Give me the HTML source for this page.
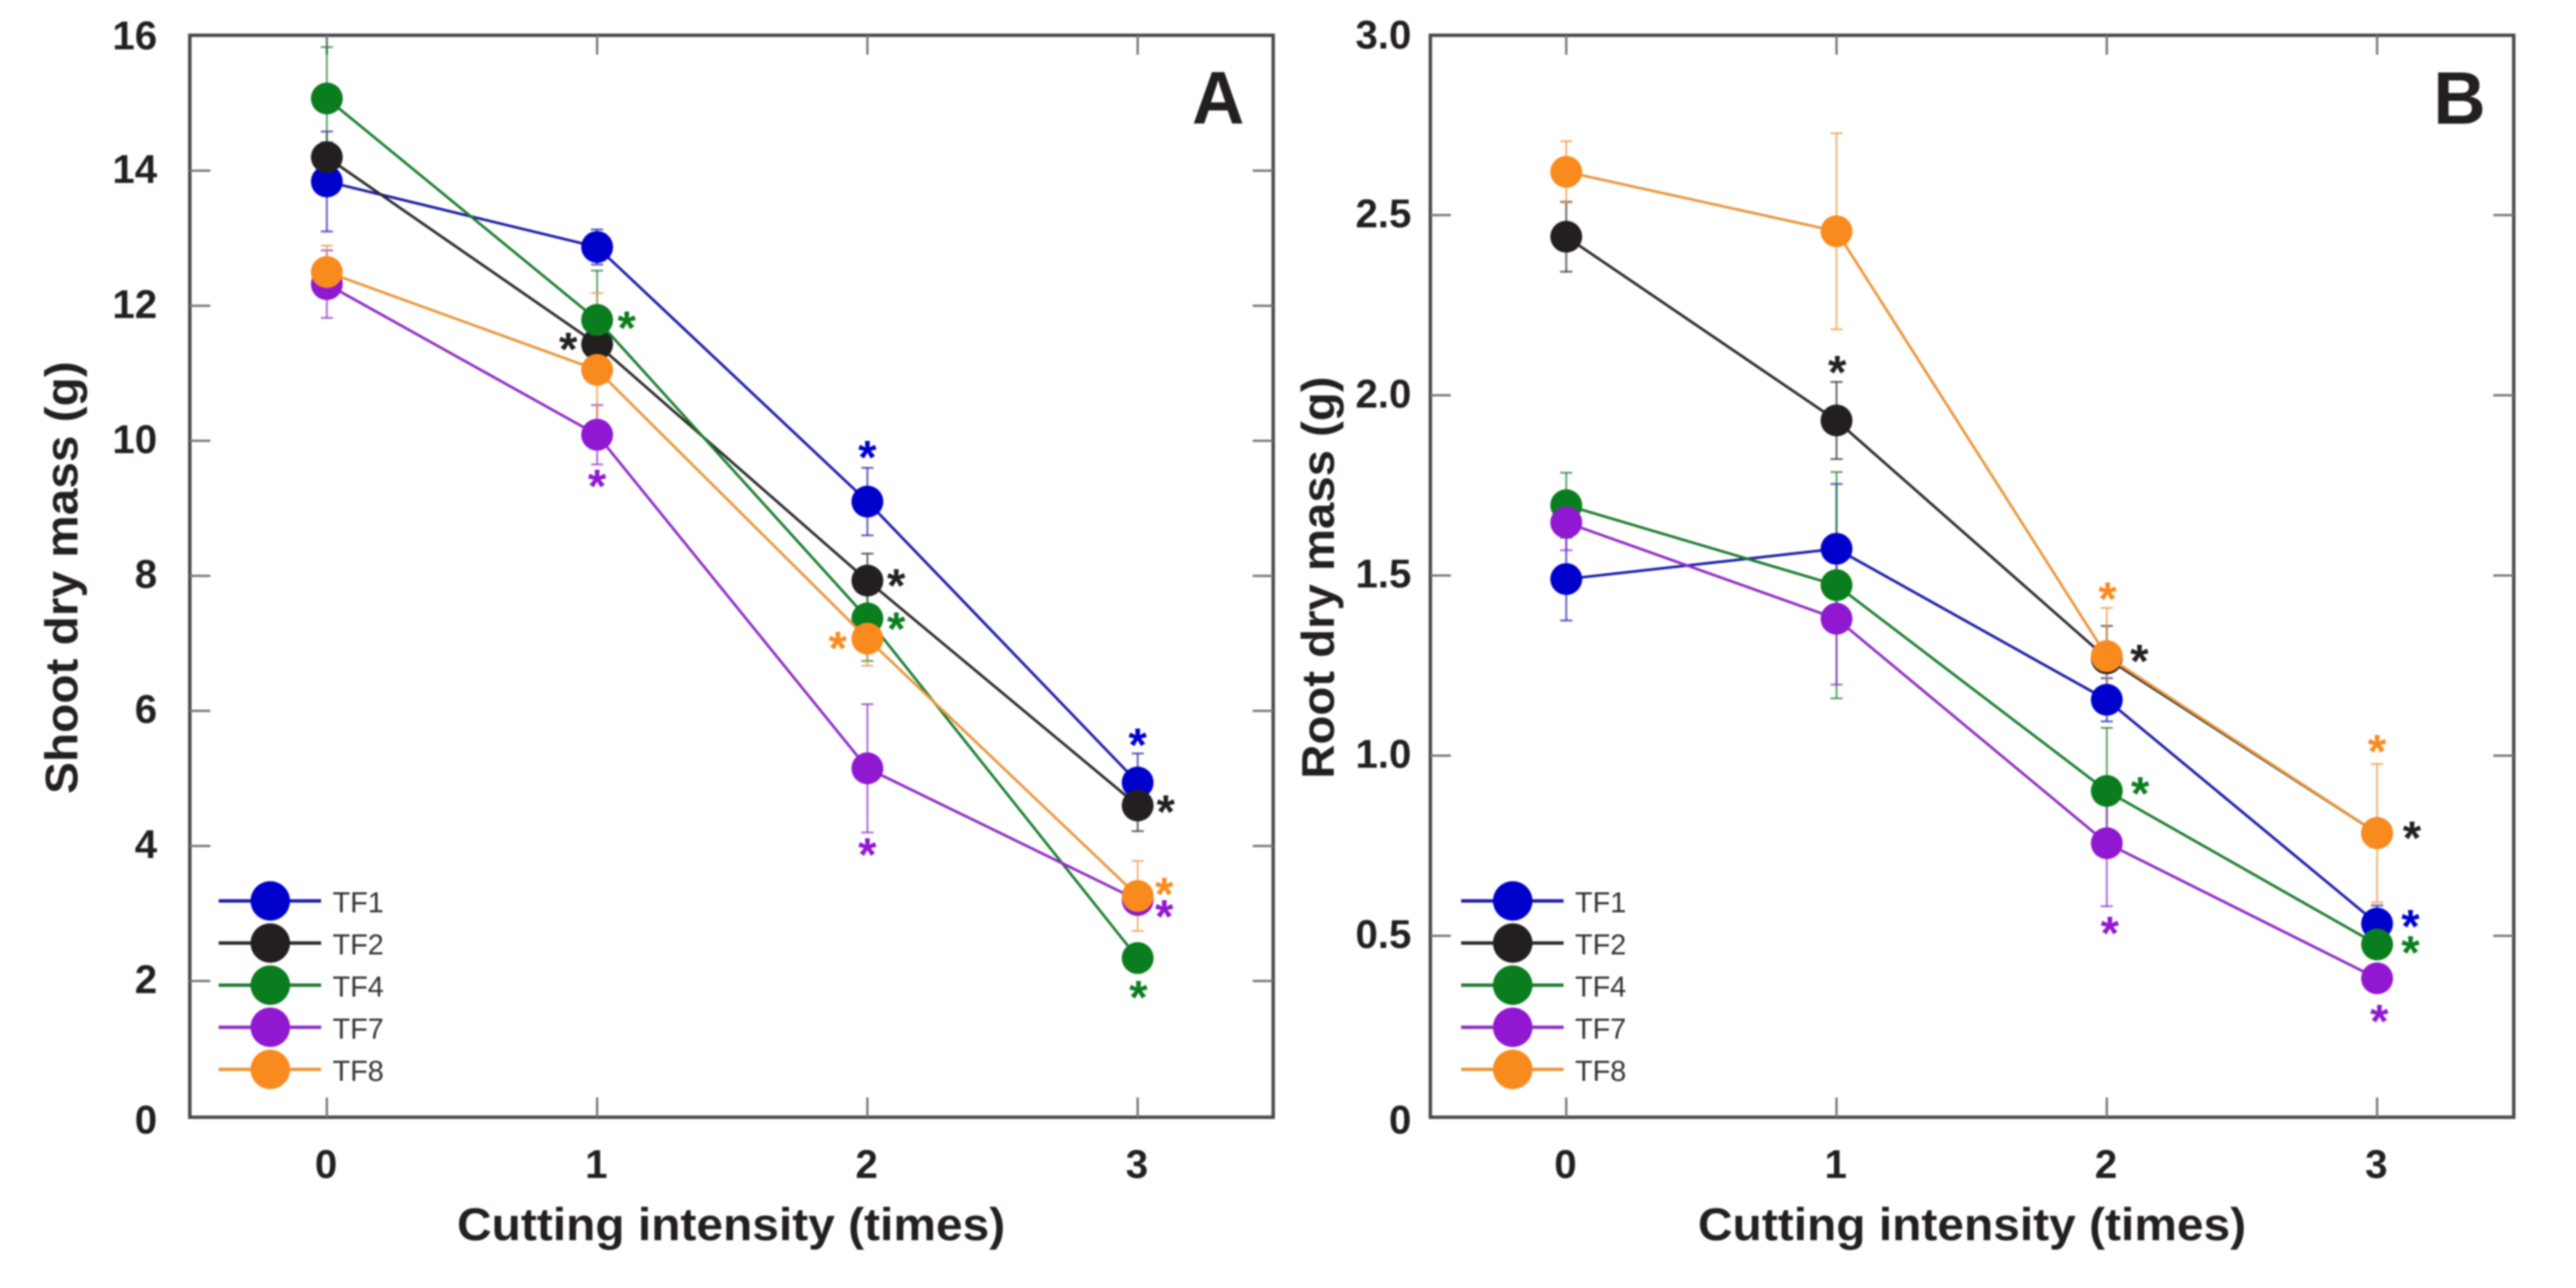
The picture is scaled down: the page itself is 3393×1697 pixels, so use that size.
<!DOCTYPE html>
<html lang="en">
<head>
<meta charset="utf-8">
<title>Shoot and root dry mass vs cutting intensity</title>
<style>
html,body{margin:0;padding:0;background:#fff;width:3393px;height:1697px;overflow:hidden}
svg{display:block;filter:blur(1px)}
text{font-family:"Liberation Sans",sans-serif;fill:#231f20}
</style>
</head>
<body>
<svg id="chart" xmlns="http://www.w3.org/2000/svg" width="3393" height="1697" viewBox="0 0 3393 1697">
<rect x="0" y="0" width="3393" height="1697" fill="#fff"></rect>
</svg>
<script>
const categories = [0, 1, 2, 3];
const seriesNames = ['TF1', 'TF2', 'TF4', 'TF7', 'TF8'];
const seriesColors = ['#0000cd', '#231f20', '#0a7d1e', '#9018d0', '#f98a1e'];
const lineColors = ['#1c1ca6', '#2b2829', '#1b7d30', '#8f2cc4', '#e8973f'];

const shootTF1 = [13.84, 12.87, 9.10, 4.94];
const shootTF2 = [14.20, 11.43, 7.93, 4.60];
const shootTF4 = [15.07, 11.79, 7.37, 2.34];
const shootTF7 = [12.32, 10.09, 5.15, 3.20];
const shootTF8 = [12.50, 11.05, 7.07, 3.26];
const shootErrTF1 = [0.74, 0.26, 0.50, 0.43];
const shootErrTF2 = [0.22, 0.40, 0.40, 0.38];
const shootErrTF4 = [0.76, 0.73, 0.63, 0.10];
const shootErrTF7 = [0.50, 0.44, 0.95, 0.10];
const shootErrTF8 = [0.39, 1.14, 0.40, 0.52];

const rootTF1 = [1.49, 1.574, 1.155, 0.534];
const rootTF2 = [2.44, 1.93, 1.27, 0.785];
const rootTF4 = [1.695, 1.473, 0.902, 0.476];
const rootTF7 = [1.647, 1.38, 0.757, 0.382];
const rootTF8 = [2.62, 2.455, 1.276, 0.785];
const rootErrTF1 = [0.115, 0.18, 0.06, 0.05];
const rootErrTF2 = [0.097, 0.107, 0.09, 0.02];
const rootErrTF4 = [0.09, 0.314, 0.175, 0.02];
const rootErrTF7 = [0.077, 0.183, 0.175, 0.02];
const rootErrTF8 = [0.085, 0.272, 0.134, 0.192];

const shootTicks = ['0', '2', '4', '6', '8', '10', '12', '14', '16'];
const rootTicks = ['0', '0.5', '1.0', '1.5', '2.0', '2.5', '3.0'];

/* significance marks: series index, category index */
const shootStarSeries = [1, 2, 3, 0, 1, 2, 4, 3, 0, 1, 4, 3, 2];
const shootStarCategory = [1, 1, 1, 2, 2, 2, 2, 2, 3, 3, 3, 3, 3];
const rootStarSeries = [1, 4, 1, 2, 3, 4, 1, 0, 2, 3];
const rootStarCategory = [1, 2, 2, 2, 2, 3, 3, 3, 3, 3];

const svg = document.getElementById('chart');
const NS = 'http://www.w3.org/2000/svg';

function make(tag, parent) {
  const el = document.createElementNS(NS, tag);
  parent.appendChild(el);
  return el;
}
function lineEl(parent, x1, y1, x2, y2, color, width, opacity) {
  const el = make('line', parent);
  el.setAttribute('x1', x1);
  el.setAttribute('y1', y1);
  el.setAttribute('x2', x2);
  el.setAttribute('y2', y2);
  el.setAttribute('stroke', color);
  el.setAttribute('stroke-width', width);
  if (opacity !== undefined) el.setAttribute('stroke-opacity', opacity);
  return el;
}
function textEl(parent, str, x, y, size, weight, anchor) {
  const el = make('text', parent);
  el.textContent = str;
  el.setAttribute('x', x);
  el.setAttribute('y', y);
  el.setAttribute('font-size', size);
  el.setAttribute('font-weight', weight);
  el.setAttribute('text-anchor', anchor);
  return el;
}

function drawPanel(cfg) {
  const g = make('g', svg);
  
  

  const xScale = v => cfg.x0 + cfg.xStep * v;
  const yScale = v => cfg.y0 - cfg.yPerUnit * v;

  const frame = make('rect', g);
  frame.setAttribute('x', cfg.left);
  frame.setAttribute('y', 46.5);
  frame.setAttribute('width', cfg.right - cfg.left);
  frame.setAttribute('height', 1472 - 46.5);
  frame.setAttribute('fill', 'none');
  frame.setAttribute('stroke', '#484848');
  frame.setAttribute('stroke-width', 4.5);
  
  

  cfg.ticks.forEach(label => {
    const v = parseFloat(label);
    const y = yScale(v);
    if (v > 0 && v < cfg.yMax) {
      const t1 = lineEl(g, cfg.left, y, cfg.left + 27, y, '#777', 3);
      
      
      const t2 = lineEl(g, cfg.right - 27, y, cfg.right, y, '#777', 3);
      
      
    }
    const off = v === 0 ? 23 : (v === cfg.yMax ? 18 : 16);
    const lab = textEl(g, label, cfg.tickLabelX, y + off, 53, 'bold', 'end');
    
    
  });

  categories.forEach(c => {
    const x = xScale(c);
    const t1 = lineEl(g, x, 1472, x, 1446, '#777', 3);
    
    
    const t2 = lineEl(g, x, 46.5, x, 72, '#777', 3);
    
    
    const lab = textEl(g, String(c), x - 1, 1552, 53, 'bold', 'middle');
    
    
  });

  const xt = textEl(g, 'Cutting intensity (times)', cfg.xTitleX, 1634, 60, 'bold', 'start');
  xt.setAttribute('textLength', 722);
  xt.setAttribute('lengthAdjust', 'spacingAndGlyphs');
  
  

  const yt = textEl(g, cfg.yTitle, 0, 0, 60, 'bold', 'middle');
  yt.setAttribute('transform', 'translate(' + cfg.yTitleX + ',' + cfg.yTitleY + ') rotate(-90)');
  yt.setAttribute('textLength', cfg.yTitleLen);
  yt.setAttribute('lengthAdjust', 'spacingAndGlyphs');
  
  

  const letter = textEl(g, cfg.letter, cfg.letterX, 163, 98, 'bold', 'start');
  letter.setAttribute('textLength', 69);
  letter.setAttribute('lengthAdjust', 'spacingAndGlyphs');
  
  

  const barLayer = make('g', g);
  
  

  cfg.values.forEach((vals, s) => {
    vals.forEach((v, i) => {
      const x = xScale(categories[i]);
      const hi = yScale(v + cfg.errors[s][i]);
      const lo = yScale(v - cfg.errors[s][i]);
      const bar = lineEl(barLayer, x, hi, x, lo, lineColors[s], 2.5, 0.7);
      
      
      const capT = lineEl(barLayer, x - 8, hi, x + 8, hi, lineColors[s], 2.5, 0.7);
      
      
      const capB = lineEl(barLayer, x - 8, lo, x + 8, lo, lineColors[s], 2.5, 0.7);
      
      
    });
  });

  cfg.values.forEach((vals, s) => {
    const sg = make('g', g);
    
    
    const path = make('polyline', sg);
    path.setAttribute('points', vals.map((v, i) => xScale(categories[i]) + ',' + yScale(v)).join(' '));
    path.setAttribute('fill', 'none');
    path.setAttribute('stroke', lineColors[s]);
    path.setAttribute('stroke-width', 3.5);
    
    
    vals.forEach((v, i) => {
      const m = make('circle', sg);
      m.setAttribute('cx', xScale(categories[i]));
      m.setAttribute('cy', yScale(v));
      m.setAttribute('r', 21);
      m.setAttribute('fill', seriesColors[s]);
      
      
    });
  });

  cfg.starSeries.forEach((s, k) => {
    const c = cfg.starCategory[k];
    const off = cfg.starOffset[k];
    const x = xScale(categories[c]) + off[0];
    const y = yScale(cfg.values[s][c]) + off[1];
    const star = textEl(g, '*', x, y + 28, 62, 'bold', 'middle');
    star.setAttribute('style', 'fill:' + seriesColors[s]);
    
    
  });

  const leg = make('g', g);
  
  
  seriesNames.forEach((name, s) => {
    const y = 1187 + 55.5 * s;
    const e = make('g', leg);
    
    
    const sample = lineEl(e, cfg.legendX, y, cfg.legendX + 135, y, lineColors[s], 4.5);
    
    
    const m = make('circle', e);
    m.setAttribute('cx', cfg.legendX + 68);
    m.setAttribute('cy', y);
    m.setAttribute('r', 26);
    m.setAttribute('fill', seriesColors[s]);
    
    
    const t = textEl(e, name, cfg.legendX + 150, y + 15, 38, 'normal', 'start');
    t.setAttribute('style', 'fill:#333');
    
    
  });
}

drawPanel({
  name: 'panel-a-shoot', letter: 'A', letterX: 1570,
  left: 250, right: 1677, x0: 430.5, xStep: 356, y0: 1470.5, yPerUnit: 88.97, yMax: 16,
  ticks: shootTicks, tickLabelX: 207, xTitleX: 602,
  yTitle: 'Shoot dry mass (g)', yTitleX: 102, yTitleY: 761, yTitleLen: 570,
  legendX: 288,
  values: [shootTF1, shootTF2, shootTF4, shootTF7, shootTF8],
  errors: [shootErrTF1, shootErrTF2, shootErrTF4, shootErrTF7, shootErrTF8],
  starSeries: shootStarSeries, starCategory: shootStarCategory,
  starOffset: [[-38, 0], [39, 4], [0, 61], [0, -65], [38, 0], [38, 7], [-39, 6], [0, 107], [0, -56], [37, 2], [35, -9], [35, 15], [1, 45]]
});

drawPanel({
  name: 'panel-b-root', letter: 'B', letterX: 3205,
  left: 1884, right: 3311, x0: 2063, xStep: 356, y0: 1470.4, yPerUnit: 474.8, yMax: 3,
  ticks: rootTicks, tickLabelX: 1859, xTitleX: 2236.5,
  yTitle: 'Root dry mass (g)', yTitleX: 1757, yTitleY: 761, yTitleLen: 530,
  legendX: 1924.5,
  values: [rootTF1, rootTF2, rootTF4, rootTF7, rootTF8],
  errors: [rootErrTF1, rootErrTF2, rootErrTF4, rootErrTF7, rootErrTF8],
  starSeries: rootStarSeries, starCategory: rootStarCategory,
  starOffset: [[1, -70], [1, -82], [43, -3], [44, -3], [4, 112], [0, -114], [46, 0], [44, -3], [44, 4], [3, 50]]
});
</script>
</body>
</html>
